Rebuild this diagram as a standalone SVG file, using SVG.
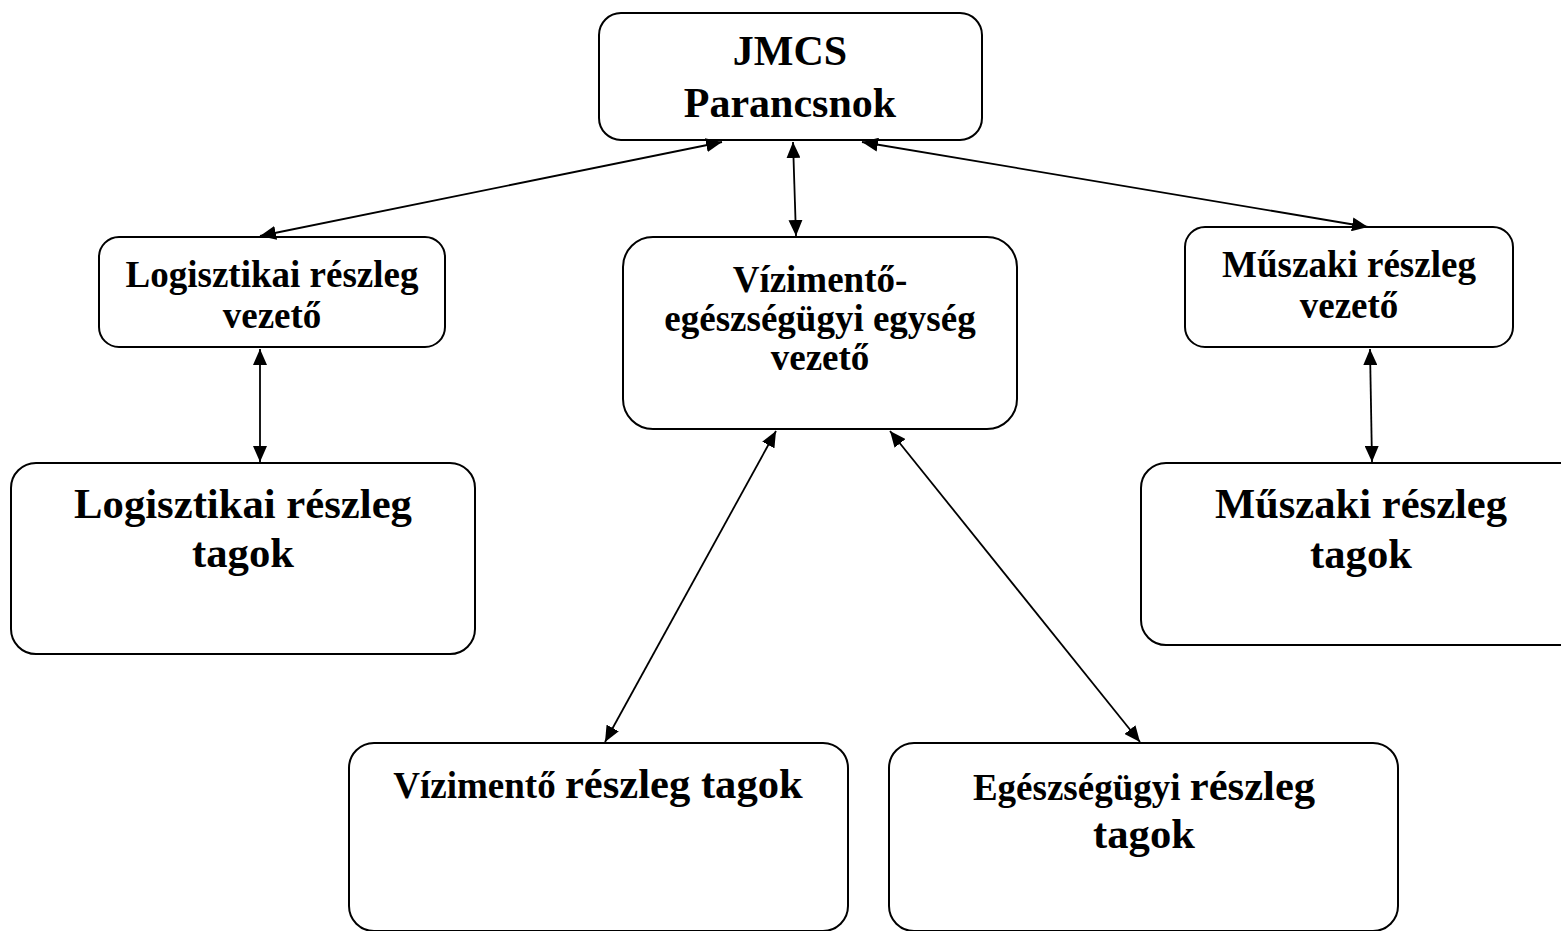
<svg xmlns="http://www.w3.org/2000/svg" width="1561" height="931" viewBox="0 0 1561 931">
<style>
.box{fill:#fff;stroke:#000;stroke-width:2}
.t{font-family:"Liberation Serif","Times New Roman",serif;font-weight:bold;fill:#000;text-anchor:middle}
.conn line{stroke:#000;stroke-width:1.8;marker-start:url(#ah);marker-end:url(#ah)}
</style>
<defs>
<marker id="ah" viewBox="0 0 10 10" refX="10" refY="5" markerWidth="16" markerHeight="14" markerUnits="userSpaceOnUse" orient="auto-start-reverse" preserveAspectRatio="none">
<path d="M0,0 L10,5 L0,10 z" fill="#000"/>
</marker>
</defs>
<rect width="1561" height="931" fill="#fff"/>
<g id="jmcs">
<rect class="box" x="599" y="13" width="383" height="127" rx="22"/>
<text class="t" x="790" y="65" font-size="42">JMCS</text>
<text class="t" x="790" y="117" font-size="42">Parancsnok</text>
</g>
<g id="log-vezeto">
<rect class="box" x="99" y="237" width="346" height="110" rx="20"/>
<text class="t" x="272" y="287" font-size="37">Logisztikai részleg</text>
<text class="t" x="272" y="328" font-size="37">vezető</text>
</g>
<g id="viz-vezeto">
<rect class="box" x="623" y="237" width="394" height="192" rx="30"/>
<text class="t" x="820" y="292" font-size="37">Vízimentő-</text>
<text class="t" x="820" y="331" font-size="37">egészségügyi egység</text>
<text class="t" x="820" y="370" font-size="37">vezető</text>
</g>
<g id="musz-vezeto">
<rect class="box" x="1185" y="227" width="328" height="120" rx="20"/>
<text class="t" x="1349" y="277" font-size="37">Műszaki részleg</text>
<text class="t" x="1349" y="318" font-size="37">vezető</text>
</g>
<g id="log-tagok">
<rect class="box" x="11" y="463" width="464" height="191" rx="25"/>
<text class="t" x="243" y="518" font-size="42.7">Logisztikai részleg</text>
<text class="t" x="243" y="567" font-size="42.7">tagok</text>
</g>
<g id="musz-tagok">
<rect class="box" x="1141" y="463" width="450" height="182" rx="25"/>
<text class="t" x="1361" y="518" font-size="42.6">Műszaki részleg</text>
<text class="t" x="1361" y="568" font-size="42.6">tagok</text>
</g>
<g id="viz-tagok">
<rect class="box" x="349" y="743" width="499" height="188" rx="25"/>
<text class="t" x="598" y="798"><tspan font-size="37">Vízimentő </tspan><tspan font-size="42.6">részleg tagok</tspan></text>
</g>
<g id="egesz-tagok">
<rect class="box" x="889" y="743" width="509" height="188" rx="25"/>
<text class="t" x="1144" y="800"><tspan font-size="37">Egészségügyi </tspan><tspan font-size="42.6">részleg</tspan></text>
<text class="t" x="1144" y="848" font-size="42.6">tagok</text>
</g>
<g id="connectors" class="conn">
<line x1="722" y1="142" x2="260" y2="236"/>
<line x1="793" y1="142" x2="796" y2="236"/>
<line x1="862" y1="142" x2="1368" y2="227"/>
<line x1="260" y1="349" x2="260" y2="462"/>
<line x1="1370" y1="349" x2="1372" y2="462"/>
<line x1="776" y1="431" x2="605" y2="742"/>
<line x1="890" y1="431" x2="1140" y2="742"/>
</g>
</svg>
